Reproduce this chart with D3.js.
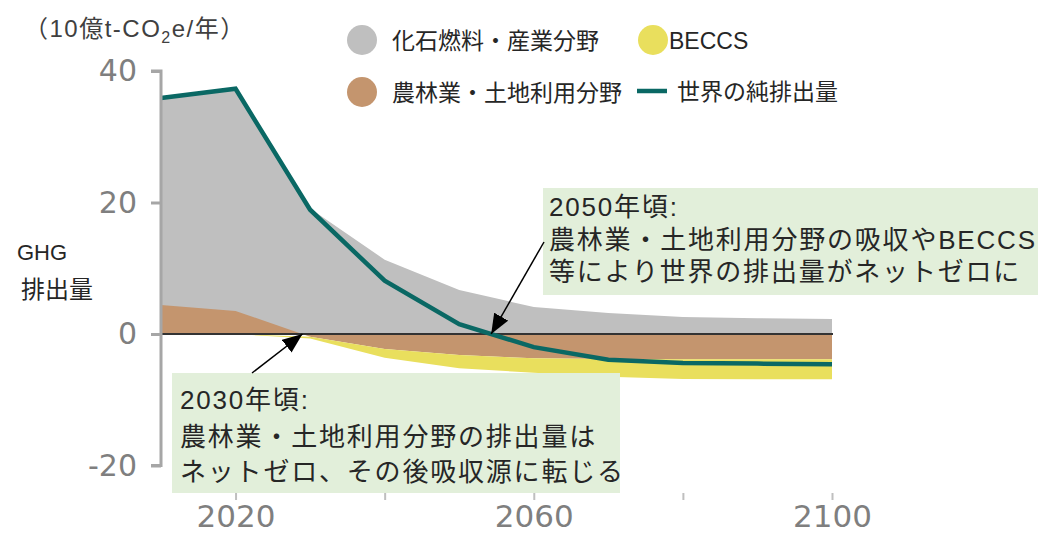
<!DOCTYPE html>
<html>
<head>
<meta charset="utf-8">
<script src="https://cdn.jsdelivr.net/npm/d3@7"></script>
<style>
  body { margin: 0; background: #fff; }
  svg { display: block; }
  text { font-family: "Liberation Sans", "Noto Sans CJK JP", sans-serif; }
</style>
</head>
<body>
<svg id="chart" width="1038" height="535"></svg>
<script>
// Global GHG emissions by sector (billion t-CO2e per year)
const years = [2010, 2020, 2030, 2040, 2050, 2060, 2070, 2080, 2090, 2100];
const fossil = [31.5, 33.8, 19.1, 11.3, 6.7, 4.1, 3.2, 2.6, 2.4, 2.3];        // 化石燃料・産業分野
const afolu = [4.4, 3.5, -0.4, -2.3, -3.2, -3.7, -3.8, -3.85, -3.85, -3.85];    // 農林業・土地利用分野
const beccs = [0, 0, -0.3, -1.3, -2.0, -2.2, -2.7, -3.0, -3.05, -3.05];        // BECCS
const netEmissions = [35.9, 37.3, 18.9, 8.1, 1.5, -2.0, -3.9, -4.4, -4.5, -4.6]; // 世界の純排出量

const yTicks = [-20, 0, 20, 40];
const xTicks = [2020, 2040, 2060, 2080, 2100];
const xTickLabels = [2020, 2060, 2100];

const legendItems = [
  { label: "化石燃料・産業分野", color: "#bfbfbf", kind: "dot" },
  { label: "BECCS", color: "#e9df5d", kind: "dot" },
  { label: "農林業・土地利用分野", color: "#c4956e", kind: "dot" },
  { label: "世界の純排出量", color: "#0a6864", kind: "line" }
];

const note2050 = ["2050年頃:", "農林業・土地利用分野の吸収やBECCS", "等により世界の排出量がネットゼロに"];
const note2030 = ["2030年頃:", "農林業・土地利用分野の排出量は", "ネットゼロ、その後吸収源に転じる"];

const rows = years.map((y, i) => ({
  year: y, f: fossil[i], a: afolu[i], b: beccs[i], net: netEmissions[i]
}));

const svg = d3.select("#chart");

const x = d3.scaleLinear().domain([2010, 2100]).range([161, 832]);
const y = d3.scaleLinear().domain([-20, 40]).range([465.5, 71]);

const colors = { fossil: "#bfbfbf", afolu: "#c4956e", beccs: "#e9df5d", net: "#0a6864" };

// Fossil & industry: stacked above any positive land-use emissions
svg.append("path")
  .datum(rows)
  .attr("fill", colors.fossil)
  .attr("d", d3.area()
    .x(d => x(d.year))
    .y0(y(0))
    .y1(d => y(Math.max(d.a, 0) + d.f)));

// Agriculture, forestry & land use: band between zero and its value
svg.append("path")
  .datum(rows)
  .attr("fill", colors.afolu)
  .attr("d", d3.area()
    .x(d => x(d.year))
    .y0(y(0))
    .y1(d => y(d.a)));

// BECCS removals stacked below negative land-use values
svg.append("path")
  .datum(rows)
  .attr("fill", colors.beccs)
  .attr("d", d3.area()
    .x(d => x(d.year))
    .y0(d => y(Math.min(d.a, 0)))
    .y1(d => y(Math.min(d.a, 0) + d.b)));

// Zero reference line
svg.append("line")
  .attr("x1", x(2010)).attr("x2", x(2100) + 1)
  .attr("y1", y(0)).attr("y2", y(0))
  .attr("stroke", "#333").attr("stroke-width", 2);

// Net emissions line
svg.append("path")
  .datum(rows)
  .attr("fill", "none")
  .attr("stroke", colors.net)
  .attr("stroke-width", 4.5)
  .attr("stroke-linejoin", "miter")
  .attr("d", d3.line().x(d => x(d.year)).y(d => y(d.net)));

// Y axis
const yAxis = svg.append("g")
  .attr("transform", `translate(${x(2010)},0)`)
  .call(d3.axisLeft(y).tickValues(yTicks).tickSize(10).tickPadding(14).tickFormat(d => String(d)));
yAxis.select(".domain").attr("stroke", "#a6a6a6").attr("stroke-width", 3)
  .attr("d", `M-10,${y(40)}H0V${y(-20)}H-10`);
yAxis.selectAll(".tick line").attr("stroke", "#a6a6a6").attr("stroke-width", 3);
yAxis.selectAll(".tick text")
  .attr("fill", "#7f7f7f")
  .style("font-family", "'DejaVu Sans', sans-serif")
  .style("font-size", "30px");

// X axis (ticks only)
const xAxis = svg.append("g")
  .attr("transform", "translate(0,493)")
  .call(d3.axisBottom(x).tickValues(xTicks).tickSize(7).tickPadding(5)
    .tickFormat(d => xTickLabels.includes(d) ? String(d) : ""));
xAxis.select(".domain").remove();
xAxis.selectAll(".tick line").attr("stroke", "#bfbfbf").attr("stroke-width", 2);
xAxis.selectAll(".tick text")
  .attr("fill", "#7f7f7f")
  .style("font-family", "'DejaVu Sans', sans-serif")
  .style("font-size", "31px");

// Unit label
const unit = svg.append("text")
  .attr("x", 24).attr("y", 37)
  .attr("fill", "#404040")
  .style("font-size", "24px")
  .style("letter-spacing", "1.5px");
unit.append("tspan").style("font-family", "'Noto Sans CJK JP', sans-serif").text("（");
unit.append("tspan").text("10億t-CO");
unit.append("tspan").attr("dy", 6).style("font-size", "16px").text("2");
unit.append("tspan").attr("dy", -6).text("e/年");
unit.append("tspan").style("font-family", "'Noto Sans CJK JP', sans-serif").text("）");

// Y axis title
svg.append("text").attr("x", 42).attr("y", 260).attr("text-anchor", "middle")
  .attr("fill", "#262626").style("font-size", "22px").text("GHG");
svg.append("text").attr("x", 57).attr("y", 298).attr("text-anchor", "middle")
  .attr("fill", "#262626").style("font-size", "24px").text("排出量");

// Legend
const legendPos = [
  { cx: 362, cy: 40, tx: 392 },
  { cx: 653, cy: 40, tx: 669 },
  { cx: 362, cy: 92, tx: 392 },
  { cx: 652, cy: 91, tx: 677 }
];
legendItems.forEach((item, i) => {
  const p = legendPos[i];
  if (item.kind === "dot") {
    svg.append("circle").attr("cx", p.cx).attr("cy", p.cy).attr("r", 15).attr("fill", item.color);
  } else {
    svg.append("line").attr("x1", p.cx - 15).attr("x2", p.cx + 15)
      .attr("y1", p.cy).attr("y2", p.cy)
      .attr("stroke", item.color).attr("stroke-width", 4.5);
  }
  svg.append("text").attr("x", p.tx).attr("y", p.cy + 9)
    .attr("fill", "#262626").style("font-size", "23px").text(item.label);
});

// Zero-crossing years for the annotation arrows
function crossing(values) {
  for (let i = 1; i < values.length; i++) {
    if (values[i - 1] > 0 && values[i] <= 0) {
      const t = values[i - 1] / (values[i - 1] - values[i]);
      return years[i - 1] + t * (years[i] - years[i - 1]);
    }
  }
  return years[0];
}
const netZeroYear = crossing(netEmissions);
const landZeroYear = crossing(afolu);

// Arrow head
svg.append("defs").append("marker")
  .attr("id", "head")
  .attr("viewBox", "0 0 20 16")
  .attr("markerUnits", "userSpaceOnUse")
  .attr("markerWidth", 20).attr("markerHeight", 16)
  .attr("refX", 20).attr("refY", 8)
  .attr("orient", "auto")
  .append("path").attr("d", "M0,0L20,8L0,16Z").attr("fill", "#000");

// Annotation boxes
function note(lines, box, textX, baselines) {
  svg.append("rect")
    .attr("x", box[0]).attr("y", box[1]).attr("width", box[2]).attr("height", box[3])
    .attr("fill", "#e2efda");
  const t = svg.append("text").attr("fill", "#262626")
    .style("font-size", "26px").style("letter-spacing", "1.8px");
  lines.forEach((s, i) => t.append("tspan").attr("x", textX).attr("y", baselines[i]).text(s));
}
note(note2050, [543, 188, 495, 107], 549, [216, 249, 281]);
note(note2030, [172, 373, 448, 120], 180, [409, 446, 481]);

svg.append("line")
  .attr("x1", 544).attr("y1", 242)
  .attr("x2", x(netZeroYear)).attr("y2", y(0))
  .attr("stroke", "#000").attr("stroke-width", 1.5)
  .attr("marker-end", "url(#head)");
svg.append("line")
  .attr("x1", 252).attr("y1", 373)
  .attr("x2", x(landZeroYear)).attr("y2", y(0))
  .attr("stroke", "#000").attr("stroke-width", 1.5)
  .attr("marker-end", "url(#head)");
</script>
</body>
</html>
